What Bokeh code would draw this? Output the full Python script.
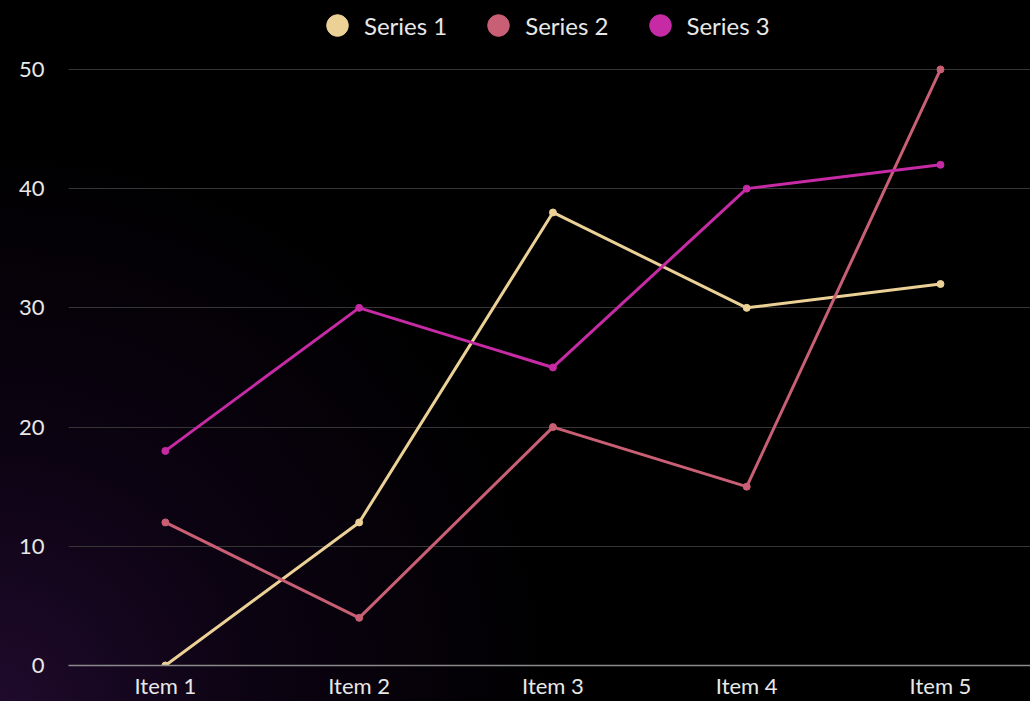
from bokeh.plotting import figure
from bokeh.models import Range1d, FixedTicker, Legend, LegendItem, GlobalInlineStyleSheet
from bokeh.embed import file_html
from bokeh.resources import INLINE

categories = ["Item 1", "Item 2", "Item 3", "Item 4", "Item 5"]
series_names = ["Series 1", "Series 2", "Series 3"]
series1 = [0, 12, 38, 30, 32]
series2 = [12, 4, 20, 15, 50]
series3 = [18, 30, 25, 40, 42]
colors = ["#ecd197", "#c95f74", "#c62aa5"]
y_ticks = [0, 10, 20, 30, 40, 50]

xs = [i + 0.5 for i in range(len(categories))]
FONT = "Lato"

p = figure(width=1030, height=701, output_backend="svg", toolbar_location=None,
           x_range=Range1d(0, 4.9645), y_range=Range1d(0, 55.78),
           min_border_left=68, min_border_right=0, min_border_top=0, min_border_bottom=35)
p.background_fill_alpha = 0
p.border_fill_alpha = 0
p.outline_line_color = None
p.styles = {"background": "radial-gradient(circle 560px at 0% 100%, #1f0a2c 0%, #0c0312 45%, #000000 100%)"}
p.stylesheets = [GlobalInlineStyleSheet(css="html,body{margin:0;padding:0;background:#000;overflow:hidden;}")]

leg_items = []
for name, vals, col in zip(series_names, [series1, series2, series3], colors):
    p.line(xs, vals, line_color=col, line_width=3)
    sr = p.scatter(xs, vals, size=7, fill_color=col, line_color=col)
    leg_items.append(LegendItem(label=name, renderers=[sr]))

legend = Legend(items=leg_items, orientation="horizontal", location=(242, 612),
                glyph_width=54, glyph_height=56, label_standoff=0, spacing=24,
                label_text_font=FONT, label_text_font_size="24px", label_text_color="#e8e8e8",
                background_fill_alpha=0, border_line_color=None, padding=0, margin=0)
p.add_layout(legend)

p.xaxis.ticker = FixedTicker(ticks=xs)
p.xaxis.major_label_overrides = {x: c for x, c in zip(xs, categories)}
p.yaxis.ticker = FixedTicker(ticks=y_ticks)

for ax in [p.xaxis[0], p.yaxis[0]]:
    ax.major_tick_line_color = None
    ax.minor_tick_line_color = None
    ax.major_label_text_font = FONT
    ax.major_label_text_font_size = "22px"
    ax.major_label_text_color = "#e8e8e8"
p.xaxis.axis_line_color = "#8a8a8a"
p.xaxis.axis_line_width = 1.5
p.yaxis.axis_line_color = None
p.xaxis.major_label_standoff = 0
p.yaxis.major_label_standoff = 18

p.xgrid.grid_line_color = None
p.ygrid.grid_line_color = "#363636"
p.ygrid.grid_line_width = 1

open("out.html", "w").write(file_html(p, INLINE))
